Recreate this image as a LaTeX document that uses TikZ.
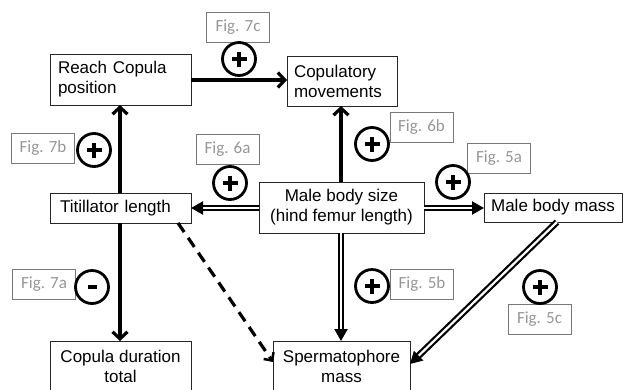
\documentclass[tikz,border=0pt]{standalone}
\usepackage{fontspec}
\setmainfont{Liberation Sans}
\newfontfamily\figfont{Carlito}
\usetikzlibrary{arrows.meta}
\definecolor{figgray}{RGB}{150,150,150}
\definecolor{figline}{RGB}{120,120,120}
\tikzset{
  box/.style={draw=black!85, line width=1pt, fill=white, font=\fontsize{17}{20}\selectfont, inner sep=0pt, outer sep=0pt},
  figbox/.style={draw=figline, line width=0.9pt, text=figgray, font=\figfont\fontsize{17}{20}\selectfont, minimum width=63pt, minimum height=30pt, inner sep=0pt, anchor=center},
  sign/.style={circle, draw=black, line width=2.8pt, minimum size=33pt, inner sep=0pt, fill=white},
  single/.style={line width=3.3pt, -{Straight Barb[length=7pt, width=15pt, line width=3.2pt]}},
  dbl/.style={double, double distance=2.2pt, line width=2.2pt, -{Triangle[length=12pt, width=13pt]}},
}
\newcommand{\plusmark}{\tikz{\fill[black] (-7.5pt,-2.2pt) rectangle (7.5pt,2.2pt); \fill[black] (-2.2pt,-7.5pt) rectangle (2.2pt,7.5pt);}}
\newcommand{\minusmark}{\tikz{\fill[black] (-4.5pt,-5pt) rectangle (4.5pt,-0.5pt);}}
\begin{document}
\begin{tikzpicture}[x=1pt, y=-1pt]
\useasboundingbox (0,0) rectangle (626,389);
% boxes
\node[box, minimum width=141pt, minimum height=51pt, align=left, text width=125pt] (reach) at (120.5,79.5) {Reach Copula\\position};
\node[box, minimum width=110pt, minimum height=50pt, align=left, text width=96pt] (copm) at (342,81) {Copulatory\\movements};
\node[box, minimum width=141pt, minimum height=30pt, align=left, text width=121pt] (tit) at (120.5,208) {Titillator length};
\node[box, minimum width=165pt, minimum height=51pt, align=center] (mbs) at (341.5,207.5) {Male body size\\(hind femur length)};
\node[box, minimum width=138pt, minimum height=29pt] (mbm) at (553,207.5) {Male body mass};
\node[box, minimum width=141pt, minimum height=51pt, align=center] (cdt) at (120.5,366.5) {Copula duration\\total};
\node[box, minimum width=137pt, minimum height=51pt, align=center] (spm) at (341.5,366.5) {Spermatophore\\mass};
% connectors
\draw[single] ([yshift=-0.5pt]reach.east) -- ([yshift=1pt]copm.west);
\draw[single] ([xshift=-0.5pt]tit.north) -- ([xshift=-0.5pt]reach.south);
\draw[single] ([xshift=-0.5pt]tit.south) -- ([xshift=-0.5pt]cdt.north);
\draw[single] ([xshift=-0.5pt]mbs.north) -- ([xshift=-1pt]copm.south);
\draw[dbl] ([yshift=-0.5pt]mbs.west) -- (tit.east);
\draw[dbl] ([yshift=-0.5pt]mbs.east) -- ([yshift=-0.5pt]mbm.west);
\draw[dbl] ([xshift=-0.5pt]mbs.south) -- ([xshift=-0.5pt]spm.north);
\draw[dbl] ([xshift=4pt]mbm.south) -- ([yshift=2.5pt]spm.east);
\draw[line width=3.2pt, dash pattern=on 11pt off 7pt, -{Straight Barb[length=6pt, width=12pt, line width=2.5pt]}] ([xshift=-13pt]tit.south east) -- ([yshift=4.5pt]spm.west);
% fig labels and signs
\node[figbox] (f7c) at (238,27) {Fig. 7c};
\node[sign] (s7c) at (239,59) {\plusmark};
\node[figbox] (f7b) at (43,148) {Fig. 7b};
\node[sign] (s7b) at (94,150) {\plusmark};
\node[figbox] (f6a) at (227.5,149.5) {Fig. 6a};
\node[sign] (s6a) at (230,183) {\plusmark};
\node[figbox] (f6b) at (421.5,127) {Fig. 6b};
\node[sign] (s6b) at (372,144) {\plusmark};
\node[figbox] (f5a) at (499,158) {Fig. 5a};
\node[sign] (s5a) at (453,182) {\plusmark};
\node[figbox] (f7a) at (44,284.5) {Fig. 7a};
\node[sign] (s7a) at (92,287) {\minusmark};
\node[figbox] (f5b) at (422,284) {Fig. 5b};
\node[sign] (s5b) at (372,286) {\plusmark};
\node[figbox] (f5c) at (539.5,319) {Fig. 5c};
\node[sign] (s5c) at (540,287) {\plusmark};
\end{tikzpicture}
\end{document}
